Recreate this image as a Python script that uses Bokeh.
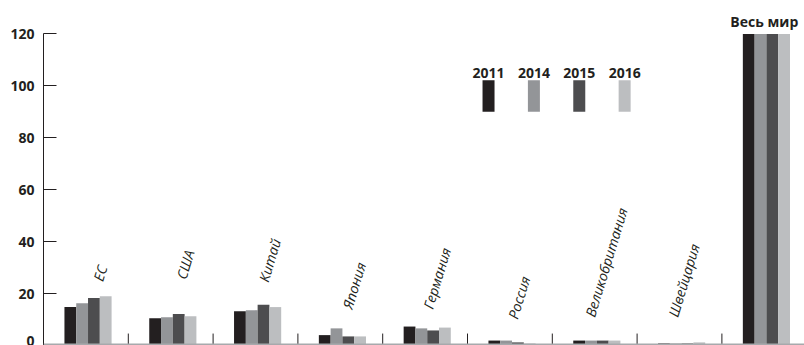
from bokeh.plotting import figure
from bokeh.models import FixedTicker, Span, ColumnDataSource
from bokeh.core.properties import value
from bokeh.embed import file_html
from bokeh.resources import INLINE
import numpy as np

# ---- data ----
countries = ["ЕС", "США", "Китай", "Япония", "Германия", "Россия",
             "Великобритания", "Швейцария", "Весь мир"]
years = ["2011", "2014", "2015", "2016"]
v2011 = [14.8, 10.5, 13.2, 4.0, 7.3, 1.9, 1.9, 0.8, 120]
v2014 = [16.3, 10.9, 13.6, 6.6, 6.6, 1.9, 1.9, 0.8, 120]
v2015 = [18.3, 12.1, 15.7, 3.5, 5.8, 1.2, 1.9, 0.8, 120]
v2016 = [19.0, 11.3, 14.8, 3.5, 6.9, 0.8, 1.9, 1.2, 120]
yticks = [0, 20, 40, 60, 80, 100, 120]

# ---- layout ----
colors = ["#231f20", "#939598", "#4d4d4f", "#bcbec0"]
label_dx = [0.14, 0.12, 0.09, 0.08, 0.03, 0.03, -0.06, -0.08]
label_y = [25.0, 25.8, 24.7, 14.3, 14.3, 10.4, 11.2, 11.2]
group_shift = 0.025
bar_w = 0.139

FONT = value("Open Sans")
INK = "#231f20"

p = figure(width=804, height=345, output_backend="svg", toolbar_location=None,
           x_range=(0, 8.974), y_range=(0, 132.9),
           min_border_left=43, min_border_right=0, min_border_top=0,
           min_border_bottom=0)
p.xaxis.visible = False
p.xgrid.visible = False
p.ygrid.visible = False
p.outline_line_color = None
p.background_fill_color = "white"
p.border_fill_color = "white"

n = len(countries)
centers = np.arange(n) + 0.5 + group_shift
series = [v2011, v2014, v2015, v2016]

# baseline
p.add_layout(Span(location=0.5, dimension="width", line_color="#a7a9ac",
                  line_width=1.5))

for j, (vals, col) in enumerate(zip(series, colors)):
    xs = centers + (j - 1.5) * bar_w
    p.vbar(x=xs, top=vals, bottom=0, width=bar_w, fill_color=col,
           line_color=None)

# category separators
seps = np.arange(1, n)
p.segment(x0=seps, x1=seps, y0=0, y1=4.6, line_color=INK, line_width=1)

# y axis
ax = p.yaxis[0]
ax.ticker = FixedTicker(ticks=yticks)
ax.bounds = (0, 120)
ax.axis_line_color = INK
ax.major_tick_line_color = INK
ax.major_tick_in = 13
ax.major_tick_out = 0
ax.minor_tick_line_color = None
ax.major_label_standoff = 9
ax.major_label_text_font = "Open Sans"
ax.major_label_text_font_style = "bold"
ax.major_label_text_font_size = "14px"
ax.major_label_text_color = INK

# rotated category labels
lab_src = ColumnDataSource(dict(
    x=[i + 0.5 + label_dx[i] for i in range(n - 1)],
    y=label_y,
    t=countries[:-1]))
p.text(x="x", y="y", text="t", source=lab_src, angle=np.deg2rad(73),
       text_font=FONT, text_font_style="italic", text_font_size="14px",
       text_align="left", text_baseline="middle", text_color=INK)

# world label
p.text(x=[n - 0.5], y=[125.0], text=[countries[-1]], text_font=FONT,
       text_font_style="bold", text_font_size="14px", text_align="center",
       text_baseline="alphabetic", text_color=INK)

# legend
leg_x0 = 5.248
leg_step = 0.535
leg_x = [leg_x0 + k * leg_step for k in range(len(years))]
p.rect(x=leg_x, y=96.1, width=0.1415, height=12.2, fill_color=colors,
       line_color=None)
p.text(x=leg_x, y=104.9, text=years, text_font=FONT, text_font_style="bold",
       text_font_size="14px", text_align="center", text_baseline="alphabetic",
       text_color=INK)

open("out.html", "w").write(file_html(p, INLINE))
